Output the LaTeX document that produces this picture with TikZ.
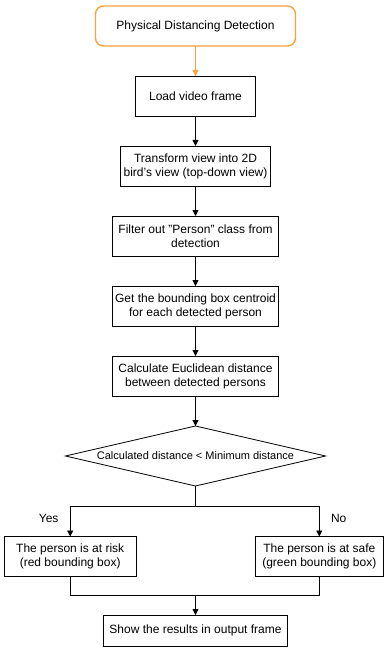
\documentclass[tikz,border=0pt]{standalone}
\usepackage{fontspec}
\setmainfont{Liberation Sans}
\usepackage{tikz}
\usetikzlibrary{shapes.geometric, arrows.meta, positioning, calc}
\definecolor{startorange}{HTML}{FFA040}

\begin{document}
\begin{tikzpicture}[
	x=1pt, y=-1pt,
	node distance=30pt and 30pt,
	every node/.style={font=\fontsize{12}{14}\selectfont},
	process/.style={rectangle, draw=black, thick, minimum height=40pt, align=center, inner sep=2pt, outer sep=0pt},
	startbox/.style={rectangle, draw=startorange, line width=1.4pt, rounded corners=8pt, minimum width=200pt, minimum height=40pt, outer sep=0pt},
	decision/.style={diamond, draw=black, thick, aspect=4.33, minimum width=260pt, minimum height=60pt, inner sep=0pt, outer sep=0pt, font=\fontsize{11}{13}\selectfont},
	arrow/.style={-{Triangle[length=6pt, width=6pt]}, thick},
	link/.style={thick}
]
\useasboundingbox (0,0) rectangle (391,652);

% Main sequence
\node[startbox] (start) at (195.5,26) {Physical Distancing Detection};
\node[process, minimum width=120pt, below=of start] (load) {Load video frame};
\node[process, minimum width=150pt, below=of load] (transform) {Transform view into 2D\\ bird's view (top-down view)};
\node[process, minimum width=166pt, below=of transform] (filter) {Filter out "Person" class from\\ detection};
\node[process, minimum width=166pt, below=of filter] (centroid) {Get the bounding box centroid\\ for each detected person};
\node[process, minimum width=166pt, below=of centroid] (distance) {Calculate Euclidean distance\\ between detected persons};
\node[decision, below=of distance] (check) {Calculated distance < Minimum distance};

% Outcomes
\node[process, minimum width=132pt] (risk) at (70.2,556.5) {The person is at risk\\ (red bounding box)};
\node[process, minimum width=128pt] (safe) at (319.3,556.5) {The person is at safe\\ (green bounding box)};
\node[process, minimum width=184pt, minimum height=31pt] (show) at (195.5,630.5) {Show the results in output frame};

\coordinate (split) at ($(check.south)+(0,20)$);
\coordinate (merge) at ($(show.north)+(0,-20)$);

% Arrows
\draw[arrow, draw=startorange, fill=startorange] (start) -- (load);
\draw[arrow] (load) -- (transform);
\draw[arrow] (transform) -- (filter);
\draw[arrow] (filter) -- (centroid);
\draw[arrow] (centroid) -- (distance);
\draw[arrow] (distance) -- (check);

\draw[link] (check.south) -- (split);
\draw[arrow] (split) -| (risk.north) node[pos=0.7, left=8pt] {Yes};
\draw[arrow] (split) -| (safe.north) node[pos=0.7, right=8pt] {No};

\draw[link] (risk.south) |- (merge);
\draw[link] (safe.south) |- (merge);
\draw[arrow] (merge) -- (show);

\end{tikzpicture}
\end{document}
